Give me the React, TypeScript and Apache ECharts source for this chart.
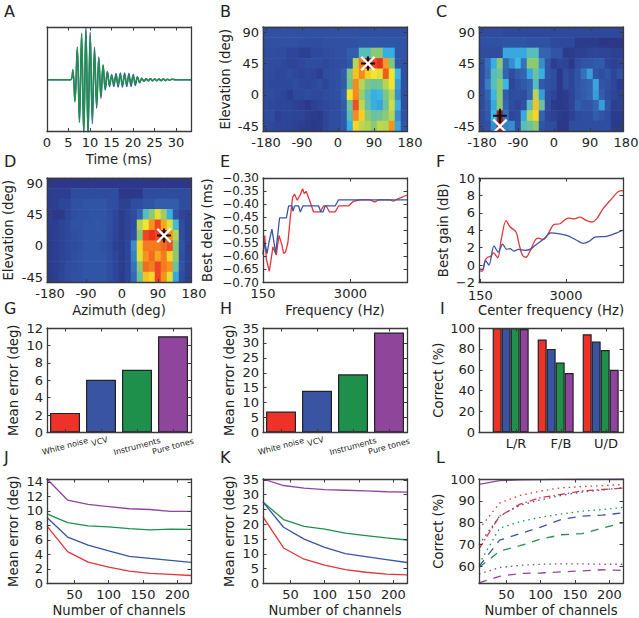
import React, { useEffect, useRef } from "react";
import * as echarts from "echarts";

const RED = "#e0353a";
const BLUE = "#3a54a4";
const GREEN = "#1f8f4c";
const PURPLE = "#8f459c";
const BAR_RED = "#ee3129";
const INK = "#222222";
const FRAME = "#3a3a3a";
const FONT = "DejaVu Sans";

const azimuths = ["-180","-165","-150","-135","-120","-105","-90","-75","-60","-45","-30","-15","0","15","30","45","60","75","90","105","120","135","150","165"];
const elevations = ["-45","-30","-15","0","15","30","45","60","75","90"];
const heatPalette = ["#2a2c7c","#2f4da0","#3572bd","#39b6e8","#8cc970","#f5e62b","#f6921e","#ed3224","#7e1416"];

// rows listed from elevation 90 down to -45
const heatB = [
  [.14,.14,.14,.14,.14,.14,.14,.14,.14,.14,.14,.14,.14,.14,.14,.14,.14,.14,.14,.14,.14,.14,.14,.14],
  [.14,.14,.14,.14,.14,.14,.13,.13,.13,.13,.14,.14,.14,.14,.14,.14,.15,.15,.15,.15,.15,.15,.15,.15],
  [.13,.13,.12,.12,.10,.10,.08,.08,.11,.11,.13,.13,.14,.14,.18,.18,.42,.42,.50,.50,.36,.36,.15,.15],
  [.13,.12,.12,.11,.09,.10,.11,.12,.12,.12,.11,.12,.13,.13,.16,.55,.78,.97,.85,.88,.74,.48,.16,.14],
  [.13,.12,.11,.11,.12,.11,.09,.11,.10,.07,.12,.13,.14,.18,.48,.68,.76,.66,.62,.60,.82,.62,.38,.14],
  [.12,.11,.11,.11,.11,.12,.11,.10,.11,.12,.09,.13,.14,.17,.46,.76,.55,.48,.45,.47,.55,.63,.33,.14],
  [.12,.12,.11,.10,.07,.11,.11,.12,.11,.11,.12,.13,.14,.20,.63,.76,.52,.42,.36,.38,.48,.55,.30,.14],
  [.12,.11,.10,.10,.10,.08,.07,.05,.08,.09,.11,.12,.13,.17,.46,.84,.56,.44,.36,.34,.45,.58,.36,.14],
  [.12,.12,.08,.10,.10,.09,.09,.07,.06,.05,.10,.12,.13,.16,.42,.76,.66,.50,.45,.46,.50,.55,.30,.14],
  [.12,.11,.10,.10,.09,.08,.07,.06,.05,.06,.10,.12,.13,.16,.36,.65,.56,.54,.50,.56,.55,.75,.35,.16],
];
const heatC = [
  [.12,.12,.12,.12,.11,.11,.11,.11,.11,.11,.11,.11,.11,.11,.11,.11,.11,.11,.11,.11,.11,.11,.11,.11],
  [.14,.14,.14,.14,.15,.15,.15,.15,.14,.14,.14,.14,.11,.11,.11,.11,.06,.06,.06,.06,.04,.04,.04,.04],
  [.12,.12,.12,.12,.35,.35,.35,.35,.42,.42,.20,.20,.15,.15,.06,.06,.08,.08,.10,.10,.09,.09,.08,.08],
  [.12,.24,.36,.50,.22,.30,.38,.25,.50,.50,.30,.15,.07,.10,.09,.05,.13,.15,.15,.17,.17,.10,.08,.10],
  [.12,.22,.42,.45,.20,.12,.18,.20,.35,.45,.36,.15,.13,.05,.12,.09,.15,.25,.33,.15,.13,.15,.10,.14],
  [.12,.27,.42,.50,.38,.10,.14,.17,.20,.42,.17,.14,.12,.05,.12,.09,.15,.18,.20,.34,.15,.14,.10,.06],
  [.12,.20,.38,.50,.18,.12,.13,.12,.20,.55,.33,.13,.10,.05,.06,.09,.15,.18,.20,.33,.18,.12,.10,.08],
  [.12,.18,.35,.50,.20,.12,.10,.14,.42,.68,.45,.12,.06,.05,.06,.09,.18,.15,.15,.20,.33,.15,.07,.08],
  [.12,.16,.38,.97,.25,.10,.12,.35,.55,.65,.20,.10,.08,.06,.05,.08,.12,.13,.13,.18,.15,.12,.06,.06],
  [.12,.14,.30,.97,.28,.30,.14,.42,.45,.50,.15,.12,.12,.05,.05,.12,.13,.13,.13,.13,.13,.13,.06,.06],
];
const heatD = [
  [.05,.05,.05,.05,.05,.05,.05,.05,.05,.05,.05,.05,.05,.05,.05,.05,.05,.05,.05,.05,.05,.05,.05,.05],
  [.07,.07,.07,.07,.12,.12,.12,.12,.12,.12,.12,.12,.05,.05,.05,.05,.12,.12,.12,.12,.12,.12,.12,.12],
  [.07,.07,.10,.10,.14,.14,.15,.15,.15,.15,.13,.13,.08,.08,.12,.12,.15,.15,.18,.18,.18,.18,.12,.12],
  [.07,.05,.05,.10,.13,.14,.14,.15,.15,.15,.13,.10,.06,.09,.12,.20,.42,.50,.60,.52,.36,.15,.10,.08],
  [.07,.07,.09,.11,.14,.14,.15,.15,.16,.15,.13,.10,.06,.09,.12,.55,.62,.75,.85,.72,.60,.40,.12,.08],
  [.06,.07,.09,.11,.13,.14,.15,.15,.15,.15,.12,.09,.06,.09,.14,.50,.85,.88,.85,.97,.75,.55,.12,.08],
  [.06,.07,.09,.11,.12,.13,.15,.15,.15,.14,.12,.08,.06,.10,.30,.65,.78,.78,.78,.80,.84,.50,.15,.08],
  [.06,.07,.09,.11,.13,.14,.15,.15,.15,.15,.13,.10,.06,.10,.28,.60,.75,.80,.72,.78,.65,.50,.14,.08],
  [.06,.07,.09,.12,.13,.14,.15,.15,.15,.15,.13,.10,.06,.10,.25,.50,.80,.78,.85,.78,.75,.45,.15,.08],
  [.06,.07,.10,.12,.14,.14,.15,.15,.15,.15,.13,.10,.06,.10,.22,.45,.68,.65,.85,.75,.60,.35,.13,.08],
];
const plusB: [number, number] = [17, 6];
const crossB: [number, number] = [17, 6];
const plusC: [number, number] = [3, 1];
const crossC: [number, number] = [3, 0];
const plusD: [number, number] = [19, 4];
const crossD: [number, number] = [19, 4];

const waveTime = [0,5.5,6,6.5,7.05,7.55,8.05,8.55,9.05,9.55,10.05,10.55,11.05,11.55,12.05,12.55,13.05,13.55,14.05,14.55,15.05,15.55,16.05,16.55,17.05,17.55,18.05,18.55,19.05,19.55,20.05,20.55,21.05,21.55,22.05,22.55,23.05,23.55,24.05,24.55,25.05,25.55,26.05,26.55,27.05,27.55,28.05,28.55,29.05,30,33.5];
const waveGreen = [0,0,.2,-.43,.64,-.82,.9,-1.02,.95,-1.02,.86,-.77,.57,-.5,.41,-.32,.29,-.18,.16,-.11,.08,-.09,.08,-.1,.1,-.1,.09,-.09,.08,-.08,.07,-.07,.05,-.05,.03,-.03,.02,-.02,.02,-.02,.015,-.015,.015,-.015,.015,-.015,.01,-.01,.01,0,0];
const waveBlue = [0,0,.17,-.4,.6,-.82,.88,-1.05,1.02,-1.08,.92,-.85,.63,-.55,.44,-.36,.27,-.2,.16,-.13,.1,-.13,.12,-.14,.13,-.14,.13,-.13,.12,-.13,.1,-.11,.06,-.06,.03,-.03,.02,-.02,.02,-.02,.015,-.02,.015,-.02,.015,-.015,.01,-.01,.01,0,0];

const delayBluePos = [0,1.2,2.8,4.2,6.2,8.8,11.5,16.2,17.8,20.1,20.8,21.9,24.7,25.9,27.7,38.6,40.2,41.6,43.2,50.1,52.4,100];
const delayBlue = [-.593,-.547,-.589,-.545,-.496,-.589,-.453,-.453,-.407,-.407,-.427,-.407,-.407,-.43,-.407,-.407,-.43,-.43,-.407,-.407,-.384,-.384];
const delayRedPos = [0,1.2,2.3,4.4,6.9,9.2,11.1,13.2,14.3,15.7,17.3,18.9,20.6,21.9,23.8,25.9,27.5,28.6,30,32.3,35.1,39.7,42,43.9,46.2,50.1,52.4,59.4,62.8,67.4,74.4,77.8,80.1,88.2,90.5,94,100];
const delayRed = [-.59,-.52,-.61,-.657,-.564,-.595,-.52,-.557,-.589,-.583,-.547,-.455,-.373,-.362,-.385,-.364,-.341,-.36,-.351,-.385,-.43,-.43,-.407,-.407,-.43,-.43,-.407,-.407,-.389,-.384,-.384,-.392,-.384,-.384,-.389,-.379,-.366];

const gainRedPos = [0,2.3,4.2,6,8.1,10,13,15.3,18.8,21.5,25.7,28,30.3,32.6,35.4,38.9,41.2,44.7,48.1,51.6,56.3,62,65.5,70.1,74.8,78.2,81.7,86.3,92.1,96.8,100];
const gainRed = [-.6,-.7,.5,.9,1,1.4,.85,2.8,5.1,4.4,3.8,2.3,1.1,.9,1.6,2.85,3.1,2.95,3.6,4.6,4.75,5.4,5.3,5.5,5.1,4.95,5.3,6.5,7.6,8.45,8.55];
const gainBluePos = [0,2.3,4.6,6.9,10.4,13.4,16.4,19.2,21.5,24.3,27.3,31.9,35.4,38.9,45.8,49.8,60.9,67.8,72.5,76.1,80.6,88.7,95.7,100];
const gainBlue = [-.4,-.5,.5,0,2.2,1.5,2.4,1.8,1.9,1.6,1.8,1.7,1.8,2.25,3.1,3.7,3.4,2.85,2.5,2.7,3.2,3.3,3.7,4];

const freqTickPosE = [0, 60.7];
const freqTickPosF = [1, 60.4];
const freqTickLabels = ["150", "3000"];

const soundTypes = ["White noise", "VCV", "Instruments", "Pure tones"];
const barColors = [BAR_RED, BLUE, GREEN, PURPLE];
const errorAzimuth = [2.25, 6.05, 7.2, 11.05];
const errorElevation = [7, 14, 19.5, 33.5];
const correctRed = [100, 89, 94];
const correctBlue = [100, 80, 87];
const correctGreen = [100, 67, 79];
const correctPurple = [99, 57, 60];
const planeLabels = ["L/R", "F/B", "U/D"];
const planeTicks = [0.118, 1.118, 2.118];

const channels = [10, 40, 70, 100, 130, 160, 190, 220];
const channelTicks = [50, 100, 150, 200];
const jPurple = [14.4, 11.5, 10.9, 10.6, 10.3, 10.2, 9.95, 9.95];
const jGreen = [9.6, 8.4, 7.95, 7.8, 7.55, 7.4, 7.5, 7.45];
const jBlue = [9.1, 6.4, 5.3, 4.5, 3.75, 3.45, 3.2, 2.9];
const jRed = [7.9, 4.4, 2.95, 2.25, 1.7, 1.4, 1.25, 1.1];
const kPurple = [35.3, 33.1, 32.2, 31.7, 31.5, 31.3, 31.0, 30.9];
const kGreen = [27.5, 21.6, 19.3, 18.4, 17, 16.2, 15.4, 14.7];
const kBlue = [27.5, 19, 15, 12.2, 10.1, 9.1, 8.1, 7.1];
const kRed = [22.5, 12, 8.2, 6.2, 4.7, 3.8, 3.2, 2.9];
const lSolid = [97.5, 99.3, 99.6, 99.7, 99.8, 99.9, 99.9, 100];
const lRedDotted = [77, 89, 92.5, 94.5, 96, 96.5, 97, 97.5];
const lRedDashDot = [68, 83, 88.5, 91.5, 93, 94.5, 95.2, 95.8];
const lBlueDotted = [70, 83, 88, 90.5, 92.5, 94, 95, 96];
const lGreenDotted = [61, 77.5, 80.5, 82.5, 84, 85.3, 86, 87];
const lBlueDashed = [60, 72, 75, 78, 81.5, 83, 83.5, 84.5];
const lGreenDashed = [59.5, 67, 69.5, 72.5, 74.5, 75, 77.5, 80];
const lPurpleDotted = [56.5, 59.5, 60.5, 61, 61.2, 61.2, 61, 61];
const lPurpleDashed = [52.5, 55.5, 56.8, 57, 57.5, 58, 58.5, 58.2];

const panelLetters = [
  { t: "A", x: 4, y: 11 }, { t: "B", x: 220, y: 11 }, { t: "C", x: 436, y: 11 },
  { t: "D", x: 4, y: 161 }, { t: "E", x: 220, y: 161 }, { t: "F", x: 436, y: 161 },
  { t: "G", x: 4, y: 308 }, { t: "H", x: 220, y: 308 }, { t: "I", x: 440, y: 308 },
  { t: "J", x: 4, y: 457 }, { t: "K", x: 220, y: 457 }, { t: "L", x: 436, y: 457 },
];

const COL = [47, 263, 479];
const ROW = [27, 178, 328, 479];
const W = 144;
const H = 104.5;
const FS = 13;
const NAME_FS = 13.2;

const PLUS = "path://M-1 -7H1V7H-1Z M-7 -1H7V1H-7Z";
const CROSS = "path://M-7 -5.5L-5.5 -7L0 -1.5L5.5 -7L7 -5.5L1.5 0L7 5.5L5.5 7L0 1.5L-5.5 7L-7 5.5L-1.5 0Z";

const grids: any[] = [];
const xAxes: any[] = [];
const yAxes: any[] = [];
const series: any[] = [];
const extraTexts: any[] = [];

const line = { show: true, onZero: false, lineStyle: { color: FRAME, width: 1.3 } };
const tick = { show: true, inside: true, length: 3.5, lineStyle: { color: FRAME, width: 1 } };

function addPanel(c: number, r: number, xa: any, ya: any) {
  const g = grids.length;
  grids.push({ left: COL[c], top: ROW[r], width: W, height: H, containLabel: false });
  const base = { gridIndex: g, z: 10, splitLine: { show: false }, axisLine: line, silent: true };
  const mk = (cfg: any, pos: string, main: boolean) => {
    const { name, nameGap, ...rest } = cfg;
    const o: any = {
      ...base, ...rest, position: pos,
      axisTick: { ...tick, ...(cfg.axisTick || {}) },
      axisLabel: main
        ? { color: INK, fontSize: FS, fontFamily: FONT, margin: 4, hideOverlap: false, ...(cfg.axisLabel || {}) }
        : { ...(cfg.axisLabel || {}), show: false },
    };
    if (main && name) {
      o.name = name; o.nameLocation = "middle"; o.nameGap = nameGap; o.nameMoveOverlap = false;
      o.nameTextStyle = { color: INK, fontSize: NAME_FS, fontFamily: FONT };
    }
    return o;
  };
  const xi = xAxes.length;
  xAxes.push(mk(xa, "bottom", true), mk(xa, "top", false));
  const yi = yAxes.length;
  yAxes.push(mk(ya, "left", true), mk(ya, "right", false));
  return { xi, yi };
}

const custom = (vals: number[], fmt?: (v: number) => string) => ({
  axisLabel: { customValues: vals, ...(fmt ? { formatter: fmt } : {}) },
  axisTick: { customValues: vals },
});

function linePts(xs: number[], ys: number[]) {
  return xs.map((x, i) => [x, ys[i]]);
}

function addLine(ax: any, xs: number[], ys: number[], color: string, extra: any = {}) {
  const { type, width, ...rest } = extra;
  series.push({
    type: "line", xAxisIndex: ax.xi, yAxisIndex: ax.yi, data: linePts(xs, ys),
    showSymbol: false, symbol: "none", silent: true, clip: true,
    lineStyle: { color, width: width ?? 1.3, type: type ?? "solid" }, ...rest,
  });
}

function heatCategory(names: string[], interval: number, extra: any = {}) {
  return {
    type: "category", data: names, boundaryGap: true,
    axisTick: { alignWithLabel: true, interval },
    axisLabel: { interval },
    ...extra,
  };
}

function addHeat(c: number, r: number, rows: number[][], plus: number[], cross: number[], yName?: string, yGap?: number, xName?: string) {
  const ax = addPanel(c, r,
    heatCategory(azimuths, 5, xName ? { name: xName, nameGap: 21 } : {}),
    heatCategory(elevations, 2, yName ? { name: yName, nameGap: yGap } : {}));
  const data: number[][] = [];
  rows.forEach((vals, i) => vals.forEach((v, j) => data.push([j, rows.length - 1 - i, v])));
  series.push({
    type: "heatmap", xAxisIndex: ax.xi, yAxisIndex: ax.yi, data, silent: true,
    itemStyle: { borderWidth: 0 }, emphasis: { disabled: true }, progressive: 0,
  });
  series.push({
    type: "scatter", xAxisIndex: ax.xi, yAxisIndex: ax.yi, data: [plus], silent: true,
    symbol: PLUS, symbolSize: 14, itemStyle: { color: "#111111", opacity: 1 }, z: 5,
  });
  series.push({
    type: "scatter", xAxisIndex: ax.xi, yAxisIndex: ax.yi, data: [cross], silent: true,
    symbol: CROSS, symbolSize: 15, itemStyle: { color: "#ffffff", opacity: 1 }, z: 6,
  });
  extraTexts.push({
    type: "text", x: COL[c] + W + 3, y: ROW[r] + H + 11,
    style: { text: "180", fontSize: FS, fill: INK, fontFamily: FONT, align: "center", verticalAlign: "middle" },
  });
}

function barCategories() {
  return {
    type: "category",
    data: soundTypes,
    axisTick: { alignWithLabel: true },
    axisLabel: {
      fontSize: 8, rotate: 15, align: "center", verticalAlign: "middle", margin: 14, interval: 0,
      formatter: (v: string) => (v === "VCV" ? "{up|" + v + "}" : v),
      rich: { up: { fontSize: 8, fontFamily: FONT, color: INK, padding: [0, 0, 10, 0] } },
    },
  };
}

function addErrorBars(c: number, r: number, vals: number[], max: number, interval: number, nameGap: number) {
  const ax = addPanel(c, r, barCategories(), { type: "value", min: 0, max, interval, name: "Mean error (deg)", nameGap });
  series.push({
    type: "bar", xAxisIndex: ax.xi, yAxisIndex: ax.yi, barWidth: 30, silent: true,
    data: vals.map((v, i) => ({ value: v, itemStyle: { color: barColors[i] } })),
    itemStyle: { borderColor: INK, borderWidth: 1.2 },
  });
}

function channelAxis() {
  return { type: "value", min: 10, max: 220, ...custom(channelTicks), name: "Number of channels", nameGap: 20.5 };
}

function build() {
  // A
  let ax = addPanel(0, 0,
    { type: "value", min: 0, max: 33.5, interval: 5, name: "Time (ms)", nameGap: 21 },
    { type: "value", min: -1, max: 1.02, axisLabel: { show: false }, axisTick: { show: false } });
  addLine(ax, waveTime, waveBlue, BLUE, { smooth: 0.4, width: 1.5 });
  addLine(ax, waveTime, waveGreen, GREEN, { smooth: 0.4, width: 1.5 });
  // B C D
  addHeat(1, 0, heatB, plusB, crossB, "Elevation (deg)", 31);
  addHeat(2, 0, heatC, plusC, crossC);
  addHeat(0, 1, heatD, plusD, crossD, "Elevation (deg)", 32, "Azimuth (deg)");
  // E
  const minus = (v: number) => v.toFixed(2).replace("-", "\u2212");
  ax = addPanel(1, 1,
    { type: "value", min: 0, max: 100, ...custom(freqTickPosE, (v: number) => freqTickLabels[freqTickPosE.indexOf(v)]), name: "Frequency (Hz)", nameGap: 21 },
    { type: "value", min: -0.7, max: -0.3, interval: 0.05, axisLabel: { formatter: minus, fontSize: 12 }, name: "Best delay (ms)", nameGap: 49 });
  addLine(ax, delayRedPos, delayRed, RED);
  addLine(ax, delayBluePos, delayBlue, BLUE);
  // F
  const fX = custom(freqTickPosF, (v: number) => freqTickLabels[freqTickPosF.indexOf(v)]);
  ax = addPanel(2, 1,
    { type: "value", min: 0, max: 100, ...fX, axisLabel: { ...fX.axisLabel, margin: 6 }, name: "Center frequency (Hz)", nameGap: 21 },
    { type: "value", min: -2, max: 10, interval: 2, axisLabel: { formatter: (v: number) => String(v).replace("-", "\u2212") }, name: "Best gain (dB)", nameGap: 29 });
  addLine(ax, gainRedPos, gainRed, RED, { smooth: 0.3 });
  addLine(ax, gainBluePos, gainBlue, BLUE, { smooth: 0.3 });
  // G H
  addErrorBars(0, 2, errorAzimuth, 12, 2, 27);
  addErrorBars(1, 2, errorElevation, 35, 5, 27);
  // I
  ax = addPanel(2, 2,
    { type: "value", min: -0.704, max: 2.496, ...custom(planeTicks, (v: number) => planeLabels[planeTicks.indexOf(v)]) },
    { type: "value", min: 0, max: 100, interval: 20, name: "Correct (%)", nameGap: 34 });
  [correctRed, correctBlue, correctGreen, correctPurple].forEach((vals, i) => {
    series.push({
      type: "bar", xAxisIndex: ax.xi, yAxisIndex: ax.yi, barWidth: 9, barGap: "0%", silent: true,
      data: vals.map((v, k) => [k, v]),
      itemStyle: { color: barColors[i], borderColor: INK, borderWidth: 1.2 },
    });
  });
  // J
  ax = addPanel(0, 3, channelAxis(), { type: "value", min: 0, max: 14.4, ...custom([0, 2, 4, 6, 8, 10, 12, 14]), name: "Mean error (deg)", nameGap: 27 });
  addLine(ax, channels, jPurple, PURPLE);
  addLine(ax, channels, jGreen, GREEN);
  addLine(ax, channels, jBlue, BLUE);
  addLine(ax, channels, jRed, RED);
  // K
  ax = addPanel(1, 3, channelAxis(), { type: "value", min: 0, max: 35.3, ...custom([0, 5, 10, 15, 20, 25, 30, 35]), name: "Mean error (deg)", nameGap: 27 });
  addLine(ax, channels, kPurple, PURPLE);
  addLine(ax, channels, kGreen, GREEN);
  addLine(ax, channels, kBlue, BLUE);
  addLine(ax, channels, kRed, RED);
  // L
  ax = addPanel(2, 3, channelAxis(), { type: "value", min: 52.2, max: 100, ...custom([60, 70, 80, 90, 100]), name: "Correct (%)", nameGap: 34 });
  const dotted = [1.5, 4];
  const dashed = [8, 7];
  const dashDot = [7, 3, 1.5, 3];
  addLine(ax, channels, lRedDotted, RED, { type: dotted });
  addLine(ax, channels, lRedDashDot, RED, { type: dashDot });
  addLine(ax, channels, lBlueDotted, BLUE, { type: dotted });
  addLine(ax, channels, lBlueDashed, BLUE, { type: dashed });
  addLine(ax, channels, lGreenDotted, GREEN, { type: dotted });
  addLine(ax, channels, lGreenDashed, GREEN, { type: dashed });
  addLine(ax, channels, lPurpleDotted, PURPLE, { type: dotted });
  addLine(ax, channels, lPurpleDashed, PURPLE, { type: dashed });
  addLine(ax, channels, lSolid, PURPLE);
}

export default function App() {
  const ref = useRef<HTMLDivElement | null>(null);
  useEffect(() => {
    grids.length = 0; xAxes.length = 0; yAxes.length = 0; series.length = 0; extraTexts.length = 0;
    build();
    const chart = echarts.init(ref.current as HTMLDivElement, undefined, { renderer: "svg" });
    const heatIdx = series.map((s, i) => (s.type === "heatmap" ? i : -1)).filter((i) => i >= 0);
    chart.setOption({
      animation: false,
      backgroundColor: "#ffffff",
      textStyle: { fontFamily: FONT, color: INK },
      grid: grids,
      xAxis: xAxes,
      yAxis: yAxes,
      series,
      visualMap: [{ show: false, seriesIndex: heatIdx, min: 0, max: 1, dimension: 2, inRange: { color: heatPalette } }],
      graphic: [
        ...panelLetters.map((p) => ({
          type: "text", x: p.x, y: p.y,
          style: { text: p.t, fontSize: 16, fill: INK, fontFamily: FONT, verticalAlign: "middle" },
        })),
        ...extraTexts,
      ],
    });
    return () => chart.dispose();
  }, []);
  return <div ref={ref} style={{ position: "absolute", left: 0, top: 0, width: 639, height: 618, background: "#fff" }} />;
}
